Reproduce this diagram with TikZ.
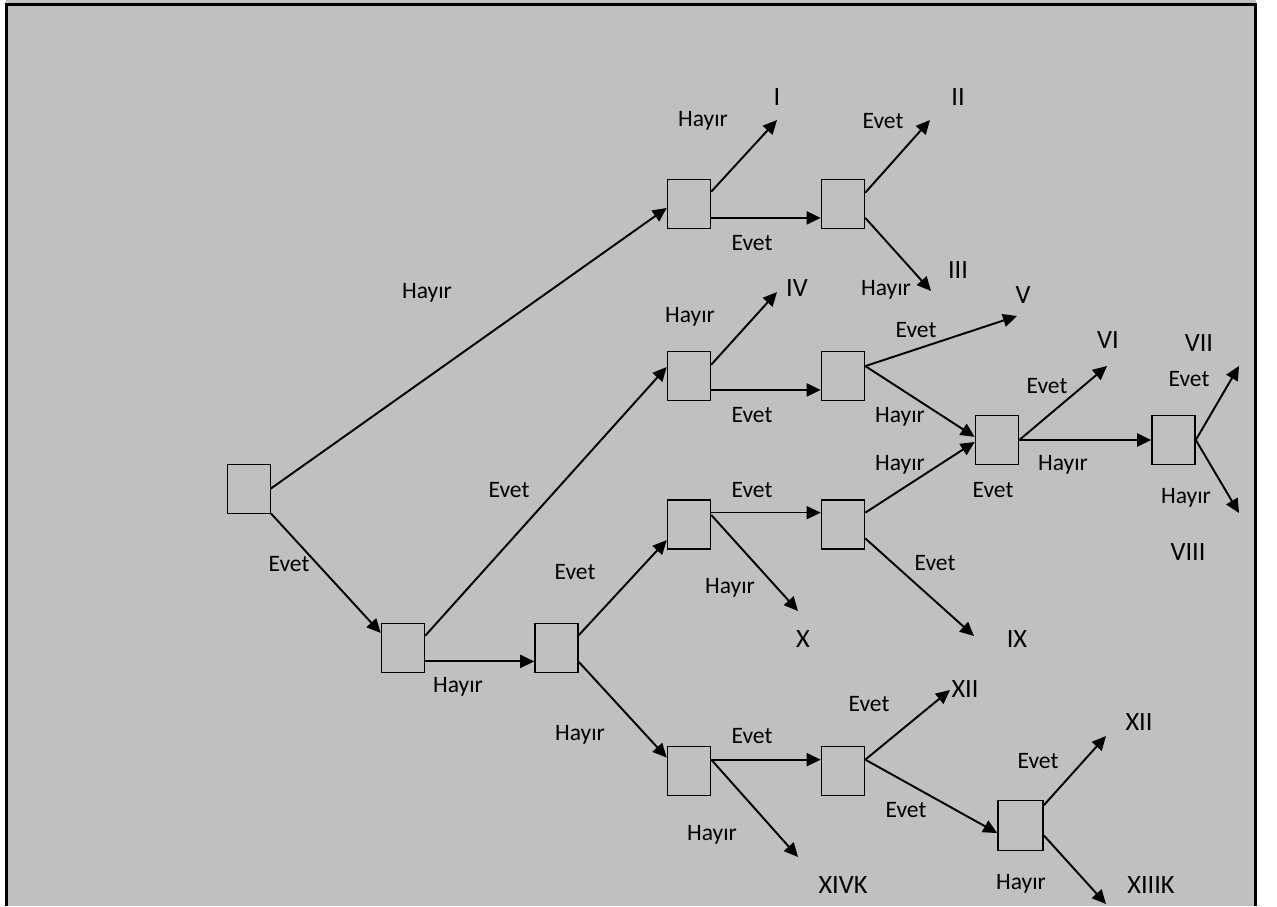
\documentclass[tikz,border=0pt]{standalone}
\usepackage{fontspec}
\setmainfont{Carlito}
\usetikzlibrary{arrows.meta}
\definecolor{bggray}{HTML}{C0C0C0}
\begin{document}
\begin{tikzpicture}[x=0.02cm, y=-0.02cm,
  box/.style={draw, line width=0.9pt, minimum width=0.86cm, minimum height=0.98cm, inner sep=0},
  arr/.style={line width=1.1pt, -{Triangle[length=0.28cm,width=0.26cm]}},
  lbl/.style={font=\fontsize{13.4}{16}\selectfont, inner sep=0},
  num/.style={font=\fontsize{15}{18}\selectfont, inner sep=0}]
  \useasboundingbox (0,0) rectangle (1277,906);
  \fill[bggray] (6,0) rectangle (1256,906);
  \draw[line width=1.2pt] (6.5,906) -- (6.5,4.5) -- (1255.5,4.5) -- (1255.5,906);

  % boxes
  \node[box, line width=0.5pt] (R) at (249,488.5) {};
  \node[box] (A) at (689,204) {};
  \node[box] (B) at (843,204) {};
  \node[box] (C) at (403,648) {};
  \node[box] (D) at (556.5,648) {};
  \node[box] (E) at (689,376) {};
  \node[box] (F) at (843,376) {};
  \node[box] (G) at (997,440) {};
  \node[box] (H) at (1173.5,440) {};
  \node[box] (J) at (689,524.5) {};
  \node[box] (K) at (843,524.5) {};
  \node[box] (L) at (689,771) {};
  \node[box] (M) at (843,771) {};
  \node[box, minimum width=0.9cm, minimum height=1cm] (N) at (1020.5,825.5) {};

  % arrow ends
  \coordinate (tI) at (777,120);
  \coordinate (tII) at (930,120);
  \coordinate (tIII) at (931,291);
  \coordinate (tIV) at (777,292);
  \coordinate (tV) at (1017,316);
  \coordinate (tVI) at (1107,366);
  \coordinate (tVII) at (1239,366);
  \coordinate (tVIII) at (1239,513);
  \coordinate (tIX) at (974,636);
  \coordinate (tX) at (798,611);
  \coordinate (tXIIa) at (950,690);
  \coordinate (tXIIb) at (1106,736);
  \coordinate (tXIIIK) at (1106,904);
  \coordinate (tXIVK) at (798,857);

  \draw[arr] (R.east) -- (A.190);
  \draw[arr] (R.south east) -- (C.146);
  \draw[arr] (C.-31) -- (D.211);
  \draw[arr] (C.29) -- (E.158);
  \draw[arr] (D.30) -- (J.215);
  \draw[arr] (D.-32) -- (L.149);
  \draw[arr] (A.-32) -- (B.212);
  \draw[arr] (A.29) -- (tI);
  \draw[arr] (B.27) -- (tII);
  \draw[arr] (B.-32) -- (tIII);
  \draw[arr] (E.-32) -- (F.212);
  \draw[arr] (E.27) -- (tIV);
  \draw[arr] (F.24) -- (tV);
  \draw[arr] (F.24) -- (G.172);
  \draw[arr] (K.28) -- (G.185);
  \draw[arr, line width=0.55pt] (J.28) -- (K.152);
  \draw[arr] (J.23) -- (tX);
  \draw[arr] (K.-32) -- (tIX);
  \draw[arr] (G.east) -- (H.west);
  \draw[arr] (G.east) -- (tVI);
  \draw[arr] (H.east) -- (tVII);
  \draw[arr] (H.east) -- (tVIII);
  \draw[arr] (L.27) -- (M.153);
  \draw[arr] (L.27) -- (tXIVK);
  \draw[arr] (M.27) -- (tXIIa);
  \draw[arr] (M.27) -- (N.198);
  \draw[arr] (N.41) -- (tXIIb);
  \draw[arr] (N.-23) -- (tXIIIK);

  % labels
  \node[lbl] (l1) at (427,293) {Hayır};
  \node[lbl] (l2) at (289,564) {Evet};
  \node[lbl] (l3) at (458,687) {Hayır};
  \node[lbl] (l4) at (509,490) {Evet};
  \node[lbl] (l5) at (575,572) {Evet};
  \node[lbl] (l6) at (580,735) {Hayır};
  \node[lbl] (l7) at (703,121) {Hayır};
  \node[lbl] (l8) at (752,243) {Evet};
  \node[lbl] (l9) at (883,121) {Evet};
  \node[lbl] (l10) at (886,290) {Hayır};
  \node[lbl] (l11) at (690,317) {Hayır};
  \node[lbl] (l12) at (752,415) {Evet};
  \node[lbl] (l13) at (916,330) {Evet};
  \node[lbl] (l14) at (900,417) {Hayır};
  \node[lbl] (l15) at (900,465) {Hayır};
  \node[lbl] (l16) at (752,490) {Evet};
  \node[lbl] (l17) at (730,588) {Hayır};
  \node[lbl] (l18) at (935,563) {Evet};
  \node[lbl] (l19) at (1047,386) {Evet};
  \node[lbl] (l20) at (1063,465) {Hayır};
  \node[lbl] (l21) at (993,490) {Evet};
  \node[lbl] (l22) at (1189,379) {Evet};
  \node[lbl] (l23) at (1186,498) {Hayır};
  \node[lbl] (l24) at (752,736) {Evet};
  \node[lbl] (l25) at (712,835) {Hayır};
  \node[lbl] (l26) at (869,704) {Evet};
  \node[lbl] (l27) at (906,810) {Evet};
  \node[lbl] (l28) at (1038,761) {Evet};
  \node[lbl] (l29) at (1021,884) {Hayır};

  \node[num] (nI) at (777,97) {I};
  \node[num] (nII) at (958,97) {II};
  \node[num] (nIII) at (958,270) {III};
  \node[num] (nIV) at (797,288) {IV};
  \node[num] (nV) at (1023,295) {V};
  \node[num] (nVI) at (1108,340) {VI};
  \node[num] (nVII) at (1199,343) {VII};
  \node[num] (nVIII) at (1188,552) {VIII};
  \node[num] (nIX) at (1017,639) {IX};
  \node[num] (nX) at (803,639) {X};
  \node[num] (nXIIa) at (965,689) {XII};
  \node[num] (nXIIb) at (1139,722) {XII};
  \node[num] (nXIIIK) at (1151,885) {XIIIK};
  \node[num] (nXIVK) at (843,885) {XIVK};
\end{tikzpicture}
\end{document}
